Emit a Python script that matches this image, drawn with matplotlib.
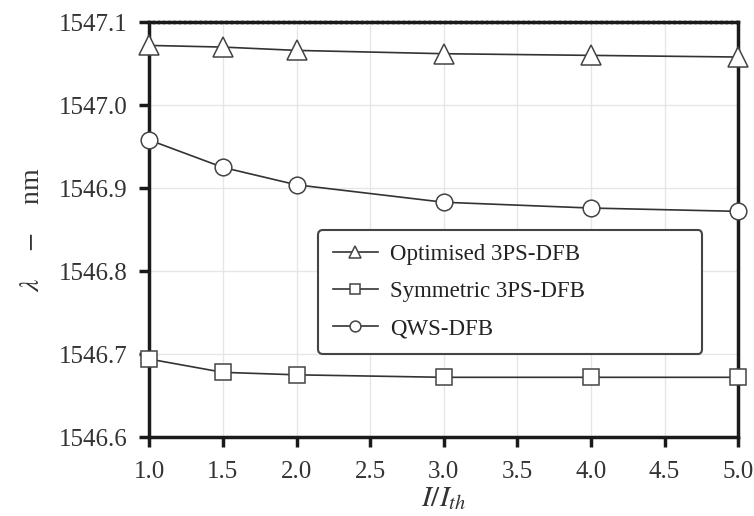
import matplotlib
matplotlib.use("Agg")
import matplotlib.pyplot as plt

plt.rcParams['font.family'] = ['Liberation Serif', 'DejaVu Serif']
plt.rcParams['mathtext.fontset'] = 'stix'

ratio = [1.0, 1.5, 2.0, 3.0, 4.0, 5.0]
optimised = [1547.072, 1547.070, 1547.066, 1547.062, 1547.060, 1547.058]
symmetric = [1546.694, 1546.678, 1546.675, 1546.672, 1546.672, 1546.672]
qws = [1546.958, 1546.925, 1546.904, 1546.883, 1546.876, 1546.872]

fig = plt.figure(figsize=(7.54, 5.16), dpi=100)
ax = fig.add_axes([0.198, 0.153, 0.781, 0.804])

line_kw = dict(color='#333333', lw=1.2, markerfacecolor='white',
               markeredgecolor='#444444', markeredgewidth=1.1, clip_on=False, zorder=3)
ax.plot(ratio, optimised, marker='^', ms=14, label='Optimised 3PS-DFB', **line_kw)
ax.plot(ratio, symmetric, marker='s', ms=11, label='Symmetric 3PS-DFB', **line_kw)
ax.plot(ratio, qws, marker='o', ms=12, label='QWS-DFB', **line_kw)

ax.set_xlim(1.0, 5.0)
ax.set_ylim(1546.6, 1547.1)
ax.set_xticks([1.0, 1.5, 2.0, 2.5, 3.0, 3.5, 4.0, 4.5, 5.0])
ax.set_yticks([1546.6, 1546.7, 1546.8, 1546.9, 1547.0, 1547.1])
ax.set_xticklabels(['%.1f' % v for v in ax.get_xticks()])
ax.set_yticklabels(['%.1f' % v for v in ax.get_yticks()])
ax.grid(True, color='#e6e6e6', lw=1.0)
ax.set_axisbelow(True)

for side in ['left', 'bottom', 'right', 'top']:
    ax.spines[side].set_linewidth(2.5)
    ax.spines[side].set_color('#1a1a1a')
ax.spines['top'].set_linestyle((0, (1, 0.5)))

ax.tick_params(axis='both', direction='out', length=7.5, width=2.5,
               labelsize=18, colors='#1a1a1a', labelcolor='#333333')
ax.tick_params(axis='y', pad=8)
ax.tick_params(axis='x', pad=10)

ax.set_xlabel(r'$I/I_{th}$', fontsize=21, color='#333333', labelpad=1)
ax.set_ylabel(r'$\lambda$    $-$    nm', fontsize=20, color='#333333', labelpad=10)

leg = ax.legend(loc='upper left', bbox_to_anchor=(0.287, 0.2, 0.652, 0.299),
                mode='expand', borderaxespad=0,
                fontsize=16.5, frameon=True, fancybox=True, edgecolor='#444444',
                framealpha=1, handlelength=2.0, handletextpad=0.5,
                labelspacing=0.7, borderpad=0.62, markerscale=0.65)
leg.get_frame().set_linewidth(1.5)
leg.set_zorder(5)
for t in leg.get_texts():
    t.set_color('#222222')

fig.savefig('out.png', dpi=100)
